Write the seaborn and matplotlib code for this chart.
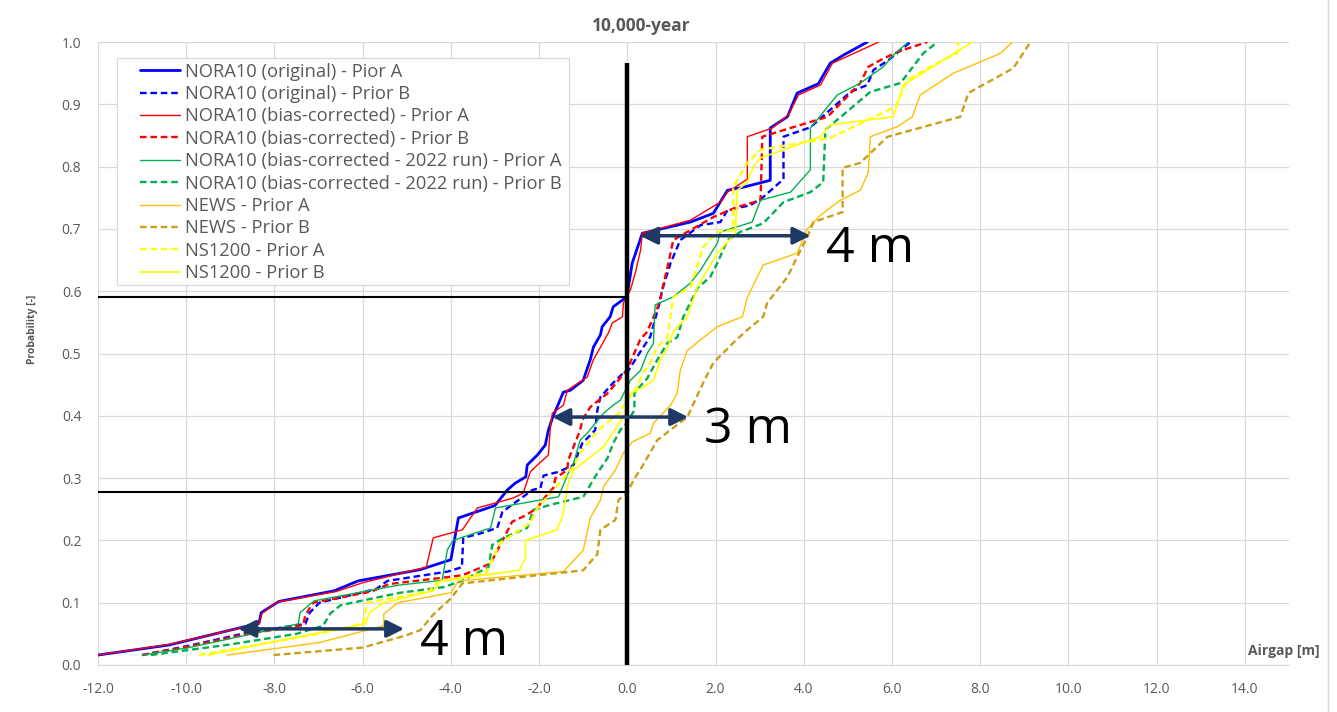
import numpy as np
import pandas as pd
import seaborn as sns
from matplotlib import pyplot as plt
from matplotlib.lines import Line2D
from matplotlib.patches import Rectangle

# airgap [m] (x) against probability [-] (y)
nora_orig_a_x = [-12.0, -10.4, -8.35, -8.3, -7.9, -6.65, -6.1, -4.7, -4.0, -3.83, -3.0, -2.72, -2.54, -2.3,
                 -2.27, -2.04, -1.86, -1.79, -1.7, -1.45, -1.29, -1.0, -0.84, -0.77, -0.61, -0.57, -0.39,
                 -0.32, -0.05, 0.0, 0.11, 0.34, 1.43, 1.95, 2.27, 2.63, 3.24, 3.24, 3.63, 3.85, 4.33, 4.6,
                 4.9, 5.44]
nora_orig_a_y = [0.016, 0.032, 0.067, 0.084, 0.102, 0.119, 0.135, 0.153, 0.169, 0.236, 0.256, 0.281, 0.292,
                 0.302, 0.321, 0.337, 0.353, 0.377, 0.396, 0.438, 0.441, 0.457, 0.49, 0.51, 0.53, 0.543,
                 0.559, 0.575, 0.589, 0.595, 0.645, 0.693, 0.711, 0.725, 0.762, 0.767, 0.778, 0.862, 0.88,
                 0.918, 0.933, 0.966, 0.979, 1.0]

nora_orig_b_x = [-11.0, -10.0, -8.6, -7.3, -7.2, -6.98, -5.69, -5.44, -4.07, -3.75, -3.72, -3.29, -2.95,
                 -2.83, -2.15, -1.97, -1.9, -1.56, -1.22, -1.02, -0.95, -0.73, -0.68, -0.61, -0.32, -0.09,
                 0.0, 0.36, 0.52, 0.75, 0.79, 0.98, 1.2, 1.66, 2.11, 2.27, 2.79, 3.08, 3.54, 3.54, 4.15,
                 5.06, 5.44, 5.58, 5.92, 6.42]
nora_orig_b_y = [0.016, 0.03, 0.052, 0.066, 0.084, 0.1, 0.122, 0.135, 0.15, 0.157, 0.204, 0.212, 0.22,
                 0.246, 0.281, 0.284, 0.304, 0.31, 0.321, 0.356, 0.361, 0.377, 0.409, 0.43, 0.453, 0.469,
                 0.47, 0.51, 0.527, 0.586, 0.602, 0.645, 0.682, 0.706, 0.711, 0.73, 0.738, 0.751, 0.78,
                 0.848, 0.863, 0.92, 0.931, 0.955, 0.971, 1.0]

nora_bc_a_x = [-12.0, -10.4, -8.35, -8.28, -7.94, -6.6, -6.0, -4.56, -4.4, -3.74, -3.4, -2.59, -2.36, -2.2,
               -2.04, -1.79, -1.75, -1.7, -1.45, -1.36, -0.91, -0.77, -0.61, -0.43, -0.34, -0.11, -0.09,
               0.07, 0.18, 0.3, 0.34, 1.43, 2.11, 2.27, 2.68, 2.72, 2.72, 3.29, 3.65, 3.88, 4.38, 4.65, 5.7]
nora_bc_a_y = [0.016, 0.033, 0.066, 0.083, 0.101, 0.118, 0.132, 0.157, 0.204, 0.217, 0.252, 0.268, 0.276,
               0.31, 0.321, 0.337, 0.377, 0.404, 0.417, 0.441, 0.462, 0.49, 0.51, 0.533, 0.549, 0.559, 0.581,
               0.602, 0.629, 0.666, 0.693, 0.714, 0.743, 0.759, 0.778, 0.78, 0.848, 0.862, 0.883, 0.915,
               0.931, 0.966, 1.0]

nora_bc_b_x = [-11.0, -10.0, -8.6, -7.35, -7.3, -7.12, -5.8, -5.4, -4.2, -3.74, -3.1, -2.83, -2.61, -2.31,
               -2.04, -1.86, -1.68, -1.63, -1.36, -1.34, -1.07, -1.02, -0.84, -0.45, -0.2, 0.0, 0.29, 0.45,
               0.68, 0.75, 0.93, 1.04, 1.43, 1.95, 2.18, 2.49, 3.02, 3.06, 3.7, 4.54, 5.28, 5.46, 5.74,
               6.12, 6.8]
nora_bc_b_y = [0.016, 0.029, 0.05, 0.064, 0.08, 0.1, 0.118, 0.13, 0.14, 0.144, 0.163, 0.2, 0.23, 0.24,
               0.252, 0.27, 0.284, 0.3, 0.313, 0.329, 0.377, 0.393, 0.414, 0.436, 0.457, 0.475, 0.522,
               0.535, 0.573, 0.59, 0.645, 0.682, 0.698, 0.719, 0.726, 0.735, 0.746, 0.848, 0.862, 0.88,
               0.934, 0.96, 0.971, 0.984, 1.0]

nora_bc22_a_x = [-11.0, -10.0, -8.5, -7.46, -7.42, -7.1, -5.2, -4.2, -4.08, -3.95, -3.1, -2.99, -1.56,
                 -1.34, -1.22, -1.07, -0.91, -0.54, -0.32, -0.16, 0.07, 0.3, 0.45, 0.59, 0.63, 1.04, 1.43,
                 1.66, 2.04, 2.11, 2.83, 3.02, 3.7, 4.15, 4.15, 4.76, 5.28, 5.8, 6.03, 6.37]
nora_bc22_a_y = [0.016, 0.027, 0.05, 0.066, 0.084, 0.103, 0.128, 0.136, 0.185, 0.2, 0.22, 0.252, 0.27,
                 0.308, 0.324, 0.361, 0.372, 0.404, 0.417, 0.425, 0.457, 0.473, 0.5, 0.516, 0.578, 0.591,
                 0.613, 0.634, 0.677, 0.695, 0.711, 0.746, 0.759, 0.795, 0.862, 0.915, 0.934, 0.96, 0.979,
                 1.0]

nora_bc22_b_x = [-10.8, -9.0, -7.5, -6.9, -6.73, -6.5, -5.9, -5.15, -4.17, -3.75, -3.15, -3.06, -2.81,
                 -2.27, -2.13, -1.75, -1.0, -0.84, -0.68, -0.45, -0.32, -0.16, 0.0, 0.16, 0.16, 0.45, 0.68,
                 0.91, 1.13, 1.27, 1.59, 1.88, 2.04, 2.27, 2.56, 3.08, 3.54, 4.15, 4.44, 4.49, 5.51, 6.19,
                 6.71, 7.03]
nora_bc22_b_y = [0.016, 0.033, 0.05, 0.063, 0.083, 0.096, 0.105, 0.116, 0.125, 0.135, 0.157, 0.193, 0.204,
                 0.22, 0.249, 0.257, 0.27, 0.289, 0.308, 0.332, 0.356, 0.377, 0.39, 0.409, 0.437, 0.46,
                 0.49, 0.517, 0.526, 0.559, 0.605, 0.623, 0.645, 0.682, 0.695, 0.709, 0.743, 0.759, 0.775,
                 0.859, 0.92, 0.934, 0.982, 1.0]

news_a_x = [-9.07, -6.98, -5.52, -5.52, -5.2, -4.0, -3.83, -1.45, -1.0, -0.84, -0.61, -0.54, -0.27, -0.09,
            0.11, 0.52, 0.59, 0.98, 1.13, 1.2, 1.36, 1.66, 2.04, 2.61, 2.72, 3.08, 3.85, 4.08, 4.38, 4.83,
            5.28, 5.46, 5.51, 6.12, 6.46, 6.64, 7.39, 8.0, 8.46, 8.73]
news_a_y = [0.016, 0.036, 0.063, 0.082, 0.1, 0.116, 0.135, 0.15, 0.184, 0.236, 0.265, 0.286, 0.313, 0.34,
            0.358, 0.372, 0.388, 0.417, 0.436, 0.473, 0.505, 0.522, 0.543, 0.559, 0.59, 0.642, 0.661, 0.7,
            0.722, 0.746, 0.762, 0.79, 0.848, 0.864, 0.88, 0.915, 0.95, 0.968, 0.982, 1.0]

news_b_x = [-8.02, -6.0, -5.04, -4.69, -4.4, -4.0, -3.74, -1.0, -0.68, -0.61, -0.27, -0.2, 0.0, 0.14, 0.29,
            0.68, 1.36, 1.72, 1.95, 2.4, 2.72, 3.08, 3.17, 3.63, 3.85, 4.08, 4.22, 4.88, 4.88, 5.28, 5.9,
            7.55, 7.73, 8.75, 9.14]
news_b_y = [0.016, 0.028, 0.047, 0.056, 0.081, 0.107, 0.131, 0.152, 0.178, 0.217, 0.233, 0.265, 0.276,
            0.297, 0.313, 0.361, 0.398, 0.453, 0.485, 0.517, 0.538, 0.559, 0.581, 0.623, 0.655, 0.687,
            0.711, 0.727, 0.798, 0.806, 0.848, 0.88, 0.918, 0.958, 1.0]

ns1200_a_x = [-9.7, -7.0, -6.0, -5.95, -5.9, -4.5, -4.3, -3.2, -3.04, -2.88, -2.2, -2.04, -1.81, -1.22,
              -1.07, -0.66, -0.2, 0.0, 0.18, 0.36, 0.52, 0.68, 0.91, 1.04, 1.43, 1.72, 2.04, 2.4, 2.4, 2.72,
              3.02, 4.6, 6.08, 6.35, 6.94, 7.48, 7.5]
ns1200_a_y = [0.016, 0.05, 0.066, 0.08, 0.1, 0.118, 0.133, 0.148, 0.173, 0.196, 0.228, 0.252, 0.27, 0.318,
              0.34, 0.377, 0.404, 0.425, 0.441, 0.469, 0.485, 0.51, 0.526, 0.59, 0.607, 0.671, 0.695, 0.698,
              0.767, 0.806, 0.827, 0.846, 0.896, 0.939, 0.963, 0.982, 1.0]

ns1200_b_x = [-9.5, -6.98, -5.93, -5.85, -5.52, -4.4, -4.23, -2.45, -2.31, -2.31, -1.6, -1.47, -1.34, -1.22,
              -0.54, -0.09, 0.07, 0.36, 0.59, 0.75, 0.91, 1.04, 1.36, 1.59, 2.04, 2.45, 2.49, 2.72, 2.86,
              3.02, 4.38, 4.6, 6.03, 6.26, 7.1, 7.82]
ns1200_b_y = [0.016, 0.052, 0.066, 0.084, 0.1, 0.119, 0.135, 0.152, 0.172, 0.2, 0.217, 0.238, 0.292, 0.313,
              0.35, 0.398, 0.436, 0.446, 0.457, 0.49, 0.509, 0.535, 0.559, 0.607, 0.661, 0.693, 0.762,
              0.775, 0.8, 0.814, 0.848, 0.867, 0.88, 0.931, 0.968, 1.0]

series_labels = ["NORA10 (original) - Pior A", "NORA10 (original) - Prior B",
                 "NORA10 (bias-corrected) - Prior A", "NORA10 (bias-corrected) - Prior B",
                 "NORA10 (bias-corrected - 2022 run) - Prior A", "NORA10 (bias-corrected - 2022 run) - Prior B",
                 "NEWS - Prior A", "NEWS - Prior B", "NS1200 - Prior A", "NS1200 - Prior B"]
series_x = [nora_orig_a_x, nora_orig_b_x, nora_bc_a_x, nora_bc_b_x, nora_bc22_a_x, nora_bc22_b_x,
            news_a_x, news_b_x, ns1200_a_x, ns1200_b_x]
series_y = [nora_orig_a_y, nora_orig_b_y, nora_bc_a_y, nora_bc_b_y, nora_bc22_a_y, nora_bc22_b_y,
            news_a_y, news_b_y, ns1200_a_y, ns1200_b_y]

# annotation: guide levels and the spread arrows
guide_probs = [0.591, 0.278]
arrow_y = [0.689, 0.398, 0.058]
arrow_x0 = [0.29, -1.70, -8.82]
arrow_x1 = [4.15, 1.38, -5.06]
arrow_text = ["4 m", "3 m", "4 m"]

DASH = (0, (2.8, 1.6))
styles = [
    dict(color="#0000FF", ls="-", lw=2.0),
    dict(color="#0000FF", ls=DASH, lw=1.7),
    dict(color="#FF0000", ls="-", lw=1.0),
    dict(color="#FF0000", ls=DASH, lw=1.7),
    dict(color="#00B050", ls="-", lw=1.0),
    dict(color="#00B050", ls=DASH, lw=1.7),
    dict(color="#FFC000", ls="-", lw=1.0),
    dict(color="#C9A018", ls=DASH, lw=1.7),
    dict(color="#FFFF00", ls=DASH, lw=1.7),
    dict(color="#FFFF00", ls="-", lw=1.2),
]

sns.set_style("white")
plt.rcParams["font.family"] = ["Open Sans", "DejaVu Sans"]
GREY = "#595959"
GRID = "#D9D9D9"

fig = plt.figure(figsize=(13.37, 7.12), dpi=100)
ax = fig.add_axes([98 / 1337, 1 - 665 / 712, (1289 - 98) / 1337, (665 - 42) / 712])

for label, xs, ys, st in zip(series_labels, series_x, series_y, styles):
    sns.lineplot(x=xs, y=ys, sort=False, estimator=None, ax=ax, label=label,
                 color=st["color"], linestyle=st["ls"], linewidth=st["lw"])

# black reference lines
ax.plot([0, 0], [0, 0.966], color="black", lw=3.2, zorder=5, solid_capstyle="butt")
for p in guide_probs:
    ax.plot([-12, 0], [p, p], color="black", lw=1.5, zorder=5)

for y, x0, x1, txt in zip(arrow_y, arrow_x0, arrow_x1, arrow_text):
    ax.annotate("", xy=(x1, y), xytext=(x0, y),
                arrowprops=dict(arrowstyle="<|-|>", color="#1F3864", lw=2.5,
                                mutation_scale=26, shrinkA=0, shrinkB=0), zorder=6)
    ax.text(x1 + 0.36, y - 0.042, txt, fontsize=36, color="black", ha="left", va="baseline", zorder=6)

ax.set_xlim(-12, 15)
ax.set_ylim(0, 1)
xt = np.arange(-12, 15, 2)
ax.set_xticks(xt)
ax.set_xticklabels([f"{v:.1f}" for v in xt])
yt = np.round(np.arange(0, 1.01, 0.1), 1)
ax.set_yticks(yt)
ax.set_yticklabels([f"{v:.1f}" for v in yt])
ax.tick_params(axis="both", length=0, labelsize=10, labelcolor=GREY)
ax.tick_params(axis="x", pad=12)
ax.tick_params(axis="y", pad=12)
ax.grid(True, color=GRID, lw=0.9)
ax.set_axisbelow(True)
for s in ["top", "right", "left"]:
    ax.spines[s].set_visible(False)
ax.spines["bottom"].set_color(GRID)

ax.text(0.456, 1.012, "10,000-year", transform=ax.transAxes, ha="center", va="bottom",
        fontsize=12.5, fontweight="bold", color=GREY)
ax.set_ylabel("Probability [-]", fontsize=7.5, fontweight="bold", color=GREY)
ax.yaxis.set_label_coords(-0.05, 0.539)
ax.text(1.026, 0.012, "Airgap [m]", transform=ax.transAxes, ha="right", va="bottom",
        fontsize=10, fontweight="bold", color=GREY, clip_on=False)

# legend box drawn separately so its padding matches the reference
ax.add_patch(Rectangle((0.016, 0.61), 0.3795, 0.364, transform=ax.transAxes, facecolor="white",
                       edgecolor=GRID, lw=0.9, zorder=4.5))
leg = ax.legend(loc="upper left", bbox_to_anchor=(0.0353, 0.967), borderaxespad=0, borderpad=0,
                fontsize=13.2, frameon=False, labelspacing=0.24, handlelength=2.18, handletextpad=0.27)
for t in leg.get_texts():
    t.set_color(GREY)

fig.add_artist(Line2D([1328 / 1337, 1328 / 1337], [0, 1], color=GRID, lw=1))

plt.savefig("out.png", dpi=100)
